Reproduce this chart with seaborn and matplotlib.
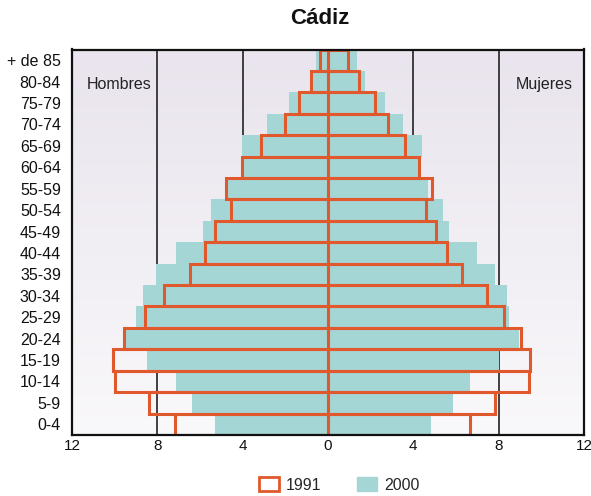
import numpy as np
import pandas as pd
import matplotlib
matplotlib.use("Agg")
import matplotlib.pyplot as plt
import seaborn as sns
from matplotlib.patches import Patch
from matplotlib.colors import LinearSegmentedColormap

sns.set_theme(style="white")
plt.rcParams['font.family'] = ['Liberation Sans', 'DejaVu Sans']

ages = ["+ de 85", "80-84", "75-79", "70-74", "65-69", "60-64", "55-59", "50-54",
        "45-49", "40-44", "35-39", "30-34", "25-29", "20-24", "15-19", "10-14",
        "5-9", "0-4"]
men_1991 = [0.37, 0.80, 1.37, 2.03, 3.13, 4.02, 4.80, 4.56, 5.31, 5.78, 6.46, 7.69,
            8.60, 9.57, 10.08, 10.00, 8.40, 7.18]
women_1991 = [0.92, 1.47, 2.19, 2.82, 3.59, 4.25, 4.86, 4.61, 5.07, 5.59, 6.27, 7.45,
              8.25, 9.06, 9.49, 9.41, 7.85, 6.64]
men_2000 = [0.58, 0.75, 1.85, 2.87, 4.02, 3.97, 4.69, 5.50, 5.86, 7.14, 8.08, 8.69,
            9.02, 9.51, 8.48, 7.14, 6.37, 5.32]
women_2000 = [1.34, 1.73, 2.67, 3.53, 4.41, 4.25, 4.67, 5.40, 5.69, 6.99, 7.81, 8.41,
              8.47, 8.97, 8.00, 6.67, 5.88, 4.85]
xticks = [-12, -8, -4, 0, 4, 8, 12]

teal = "#a5d6d6"
orange = "#e0592c"

fig = plt.figure(figsize=(5.91, 4.96), dpi=100)
ax = fig.add_axes([72 / 591, 61 / 496, 512 / 591, 385.5 / 496])

df2000_m = pd.DataFrame({"age": ages, "v": [-v for v in men_2000]})
df2000_f = pd.DataFrame({"age": ages, "v": women_2000})
df1991_m = pd.DataFrame({"age": ages, "v": [-v for v in men_1991]})
df1991_f = pd.DataFrame({"age": ages, "v": women_1991})

for d in (df2000_m, df2000_f):
    sns.barplot(data=d, y="age", x="v", order=ages, color=teal, width=1.0,
                orient="h", ax=ax, errorbar=None, saturation=1, linewidth=0,
                zorder=2)
for d in (df1991_m, df1991_f):
    sns.barplot(data=d, y="age", x="v", order=ages, width=1.0, orient="h",
                ax=ax, errorbar=None, fill=False, edgecolor=orange,
                linewidth=2.2, zorder=3)

ax.set_xlim(-12, 12)
ax.set_ylim(len(ages) - 0.5, -0.5)

cmap = LinearSegmentedColormap.from_list("bg", ["#e9e4ed", "#f9f8fa"])
grad = np.linspace(0, 1, 256).reshape(-1, 1)
ax.imshow(grad, cmap=cmap, aspect="auto",
          extent=[-12, 12, len(ages) - 0.5, -0.5], zorder=0)
ax.set_xlim(-12, 12)
ax.set_ylim(len(ages) - 0.5, -0.5)

for xv in (-8, -4, 4, 8):
    ax.axvline(xv, color="#222222", lw=1.2, zorder=1)

ax.set_xticks(xticks)
ax.set_xticklabels([str(abs(t)) for t in xticks])
ax.tick_params(axis="y", length=0, labelsize=11.5, colors="#111111", pad=8)
ax.tick_params(axis="x", length=0, labelsize=11, colors="#111111", pad=3)
ax.set_xlabel("")
ax.set_ylabel("")
for s in ax.spines.values():
    s.set_color("#111111")
    s.set_linewidth(1.6)
    s.set_zorder(5)

ax.text(-11.3, 1.15, "Hombres", fontsize=11.5, color="#222222", ha="left",
        va="center", zorder=4)
ax.text(11.45, 1.15, "Mujeres", fontsize=11.5, color="#222222", ha="right",
        va="center", zorder=4)

fig.text(320 / 591, 1 - 18 / 496, "Cádiz", ha="center", va="center",
         fontsize=16, fontweight="bold", color="#111111")

handles = [Patch(facecolor="white", edgecolor=orange, linewidth=2.0, label="1991"),
           Patch(facecolor=teal, edgecolor=teal, label="2000")]
fig.legend(handles=handles, loc="center", bbox_to_anchor=(339 / 591, 1 - 485 / 496),
           ncol=2, frameon=False, fontsize=11.5, columnspacing=2.2,
           handlelength=1.25, handleheight=0.9, handletextpad=0.45)

fig.savefig("out.png", dpi=100)
